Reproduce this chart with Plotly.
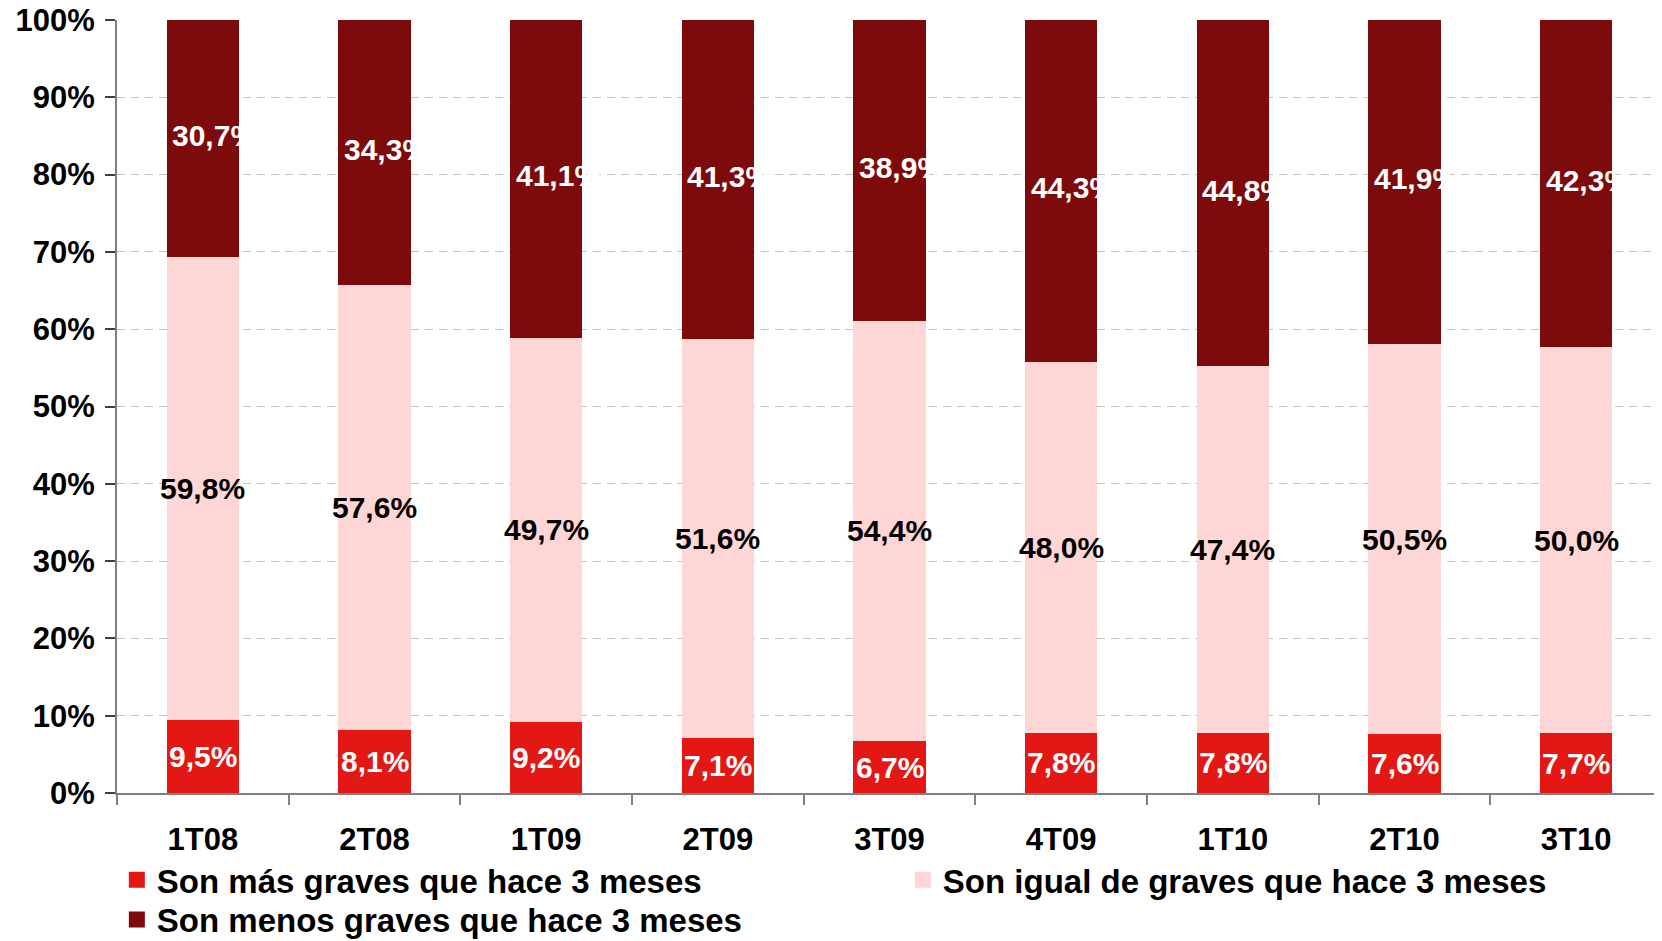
import plotly.graph_objects as go

categories = ["1T08", "2T08", "1T09", "2T09", "3T09", "4T09", "1T10", "2T10", "3T10"]
mas_graves = [9.5, 8.1, 9.2, 7.1, 6.7, 7.8, 7.8, 7.6, 7.7]
igual_graves = [59.8, 57.6, 49.7, 51.6, 54.4, 48.0, 47.4, 50.5, 50.0]
menos_graves = [30.7, 34.3, 41.1, 41.3, 38.9, 44.3, 44.8, 41.9, 42.3]
series_names = [
    "Son más graves que hace 3 meses",
    "Son igual de graves que hace 3 meses",
    "Son menos graves que hace 3 meses",
]
y_tick_vals = [0, 10, 20, 30, 40, 50, 60, 70, 80, 90, 100]
y_tick_text = ["0%", "10%", "20%", "30%", "40%", "50%", "60%", "70%", "80%", "90%", "100%"]

colors = ["#E31713", "#FFD6D6", "#7D0B0B"]
label_colors = ["white", "black", "white"]
legend_refs = ["legend", "legend", "legend2"]
FONT = "Liberation Sans, Arial, sans-serif"


def fmt(v):
    return f"{v:.1f}".replace(".", ",") + "%"


fig = go.Figure()
series = [mas_graves, igual_graves, menos_graves]
for name, vals, col in zip(series_names, series, colors):
    fig.add_trace(go.Bar(x=categories, y=vals, name=name, marker=dict(color=col, line=dict(width=0)),
                         showlegend=False, hoverinfo="x+y+name"))

# legend proxies (larger square swatches)
for name, col, lref in zip(series_names, colors, legend_refs):
    fig.add_trace(go.Scatter(x=[None], y=[None], mode="markers", name=name, legend=lref,
                             marker=dict(symbol="square", size=16, color=col)))

annotations = []
for i, cat in enumerate(categories):
    base = 0.0
    for s, vals in enumerate(series):
        v = vals[i]
        center = base + v / 2
        annotations.append(dict(
            x=cat, y=center, xref="x", yref="y", text=fmt(v), showarrow=False,
            font=dict(family=FONT, size=30, color=label_colors[s], weight="bold"),
            xshift=12 if s == 2 else 0, yshift=3 if s == 2 else 0,
        ))
        base += v

legend_font = dict(family=FONT, size=33, color="black", weight="bold")

fig.update_layout(
    width=1654, height=933,
    margin=dict(l=109, r=0, t=12, b=148, autoexpand=False),
    barmode="stack", bargap=0.58,
    plot_bgcolor="white", paper_bgcolor="white",
    font=dict(family=FONT, color="black"),
    annotations=annotations,
    showlegend=True,
    legend=dict(orientation="h", x=-0.0001, xanchor="left", y=-0.0762, yanchor="top",
                entrywidth=741, entrywidthmode="pixels", font=legend_font,
                bgcolor="rgba(0,0,0,0)", traceorder="normal", itemclick=False),
    legend2=dict(orientation="h", x=-0.0001, xanchor="left", y=-0.1275, yanchor="top",
                 font=legend_font, bgcolor="rgba(0,0,0,0)", itemclick=False),
    xaxis=dict(
        type="category", showline=True, linecolor="#808080", linewidth=2,
        ticks="outside", tickson="boundaries", ticklen=10, tickcolor="#808080", tickwidth=1.5,
        tickfont=dict(family=FONT, size=31, color="black", weight="bold"),
        ticklabelstandoff=18, showgrid=False, fixedrange=True,
    ),
    yaxis=dict(
        range=[0, 100], tickvals=y_tick_vals, ticktext=y_tick_text,
        showline=True, linecolor="#808080", linewidth=2,
        ticks="outside", ticklen=10, tickcolor="#404040", tickwidth=1.5,
        tickfont=dict(family=FONT, size=31, color="black", weight="bold"),
        ticklabelstandoff=4, ticklabeloverflow="allow",
        showgrid=True, gridcolor="#C4C4C4", gridwidth=1, griddash="8px,6px",
        zeroline=False, fixedrange=True,
    ),
)

fig.write_html("out.html")
